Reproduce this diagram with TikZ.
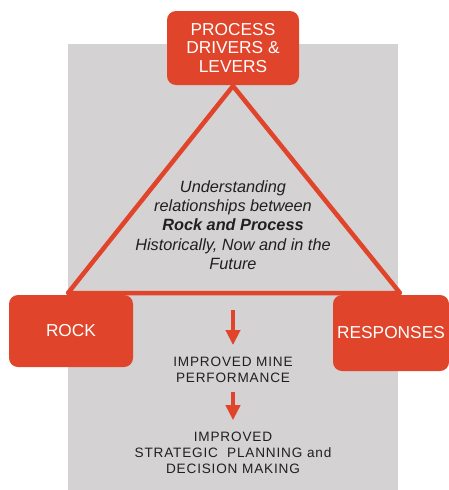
\documentclass[tikz,border=0pt]{standalone}
\usepackage{fontspec}
\setmainfont{Liberation Sans}
\usetikzlibrary{arrows.meta}
\definecolor{boxred}{RGB}{224,68,42}
\definecolor{panelgray}{RGB}{212,210,210}
\definecolor{inktext}{RGB}{32,32,32}
\tikzset{
  redbox/.style={fill=boxred, draw=none, rounded corners=9pt, text=white,
    align=center, inner sep=0pt, font=\fontsize{17.3}{18.6}\selectfont},
  caption/.style={text=inktext, align=center, inner sep=0pt,
    font=\fontsize{13.6}{15.8}\selectfont\addfontfeature{LetterSpace=6}},
  flowarrow/.style={draw=boxred, line width=4.5pt,
    -{Triangle[width=14pt,length=15pt]}},
  edge/.style={draw=boxred, line width=4.5pt, line join=round}
}
\begin{document}
\begin{tikzpicture}[x=1pt,y=-1pt]
  \useasboundingbox (0,0) rectangle (449,490);
  % grey backdrop panel
  \fill[panelgray] (68,44) rectangle (398,490);

  % triangle corners
  \coordinate (apex) at (233,86);
  \coordinate (leftc) at (68,293);
  \coordinate (rightc) at (400,293);
  \draw[edge] (apex) -- (leftc) -- (rightc) -- cycle;

  % corner boxes
  \node[redbox, minimum width=132pt, minimum height=74pt] (drivers) at (233,48)
    {PROCESS\\DRIVERS \&\\LEVERS};
  \node[redbox, minimum width=124pt, minimum height=72pt] (rock) at (71,331) {ROCK};
  \node[redbox, minimum width=116pt, minimum height=76pt] (responses) at (391,333)
    {RESPONSES};

  % statement inside the triangle
  \node[text=inktext, align=center, inner sep=0pt,
        font=\fontsize{16.3}{19.2}\selectfont\itshape] (core) at (233,225)
    {Understanding\\relationships between\\\textbf{Rock and Process}\\Historically, Now and in the\\Future};

  % outcomes
  \node[caption] (mine) at (233,369.8) {IMPROVED MINE\\PERFORMANCE};
  \node[caption] (plan) at (233,453) {IMPROVED\\STRATEGIC\ \ PLANNING\ and\\DECISION\ MAKING};

  \coordinate (flowstart) at (233,310);
  \draw[flowarrow] (flowstart) -- ([yshift=11.8pt]mine.north);
  \draw[flowarrow] ([yshift=-9pt]mine.south) -- ([yshift=12pt]plan.north);
\end{tikzpicture}
\end{document}
